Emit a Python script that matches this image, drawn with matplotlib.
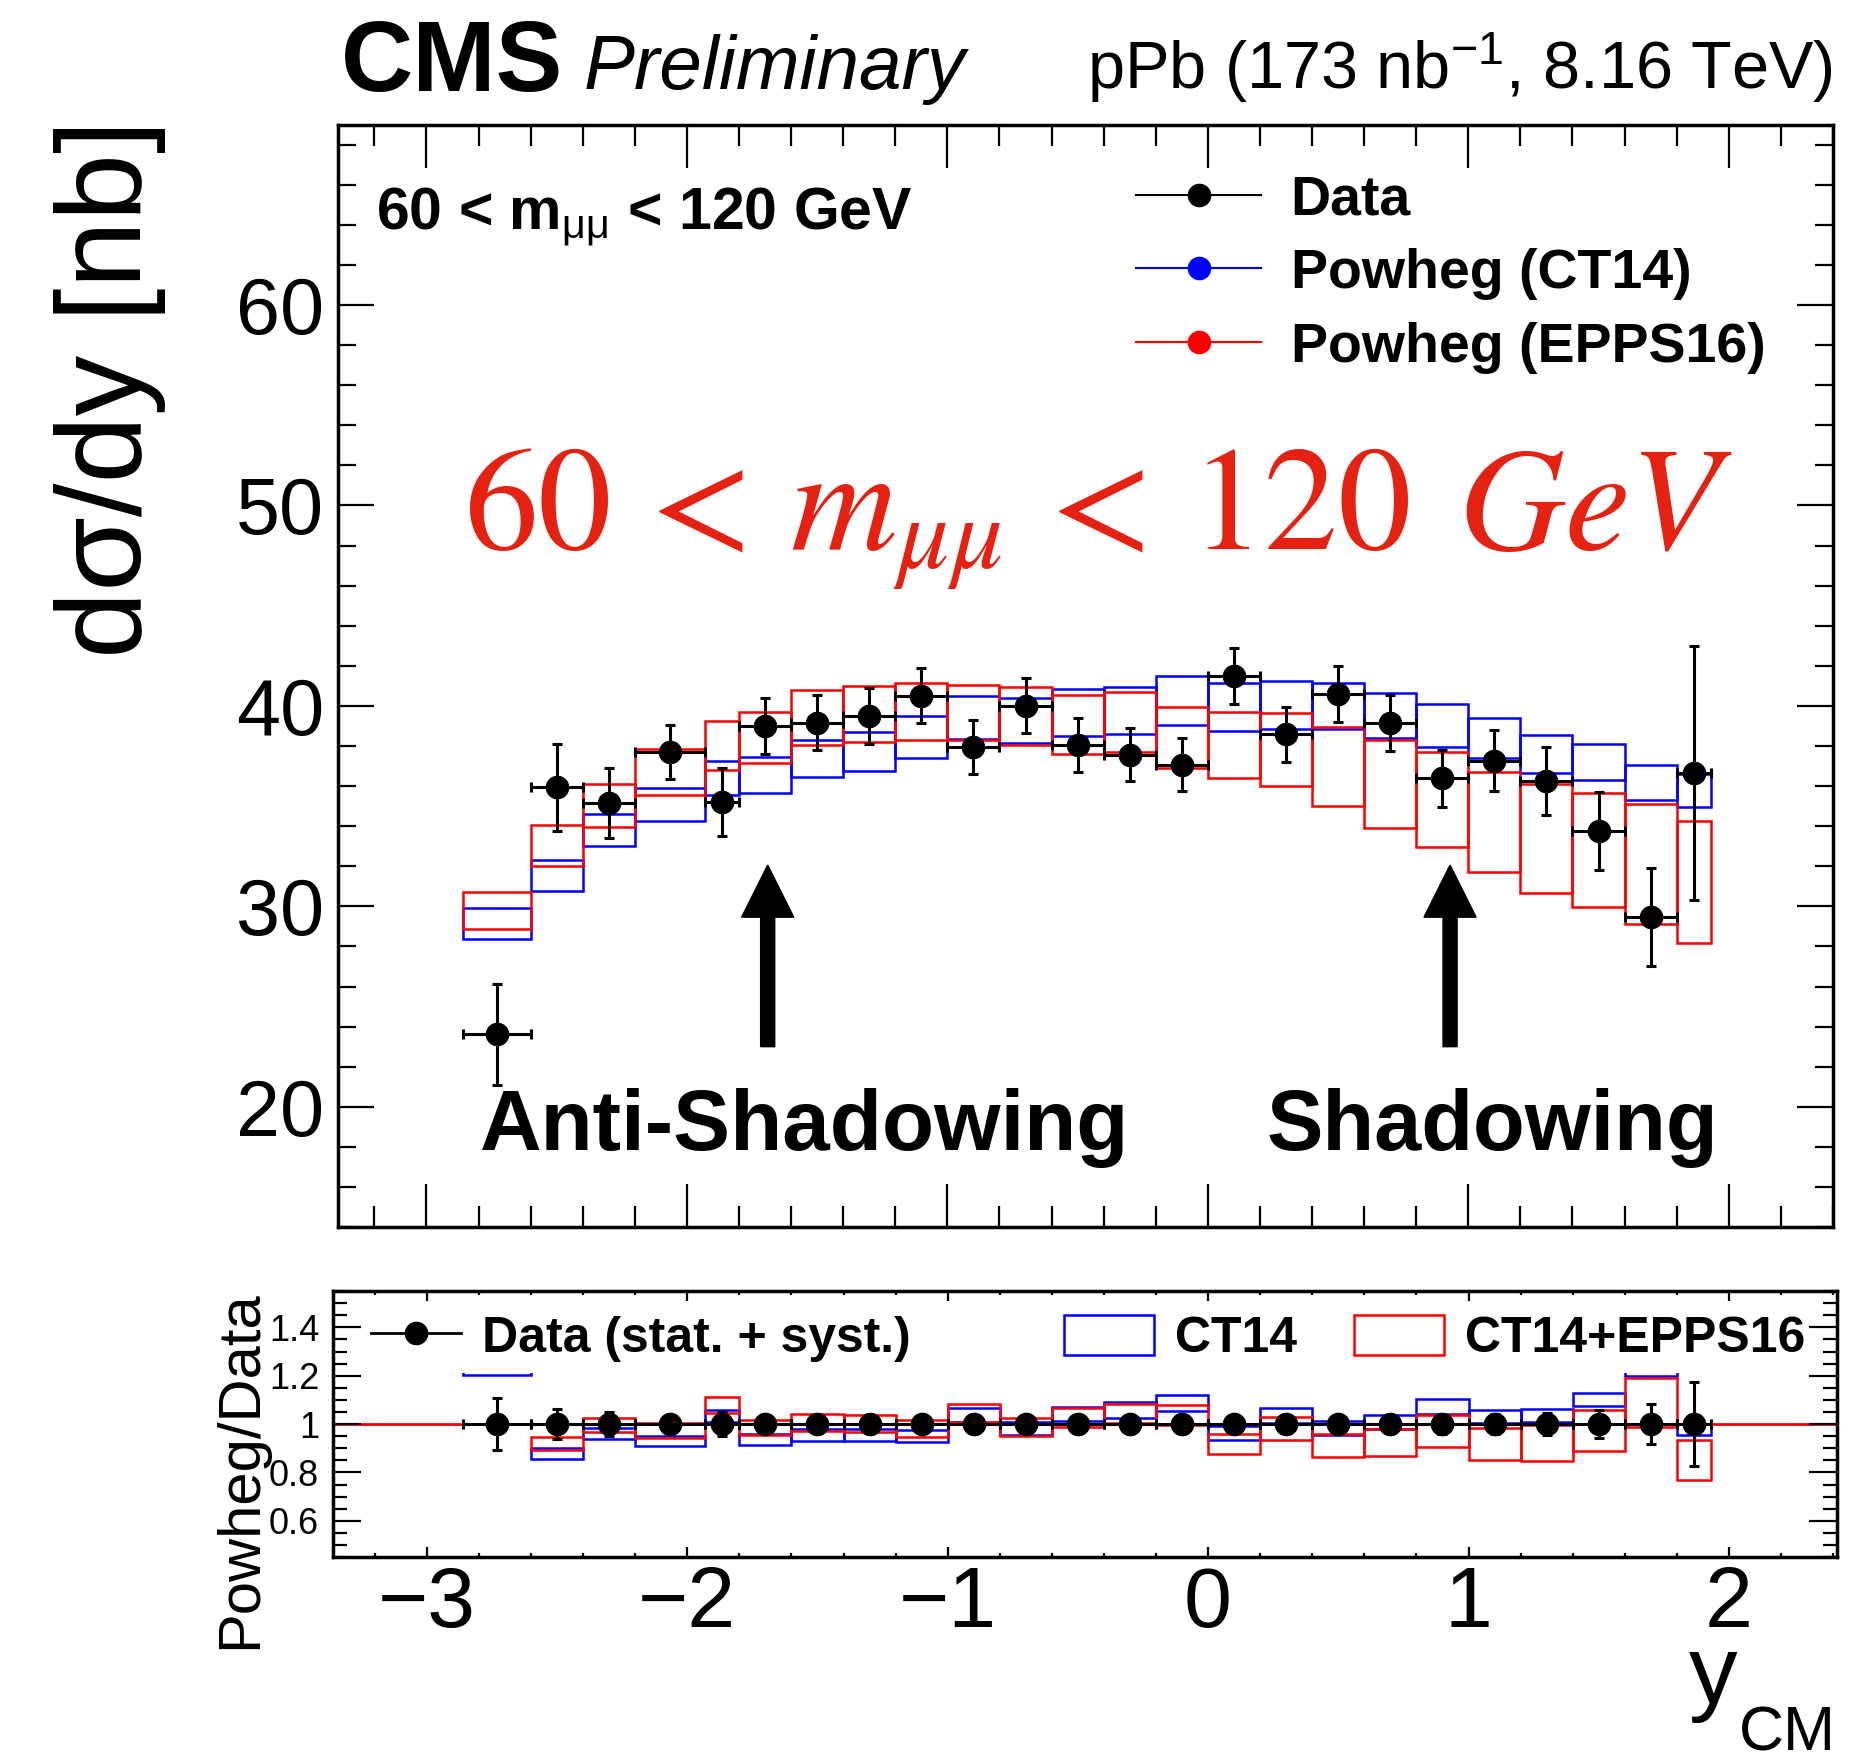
"""Z boson (DY) dsigma/dy in pPb at 8.16 TeV, data vs Powheg, with ratio panel."""
import numpy as np
import matplotlib
matplotlib.use('Agg')
from matplotlib import pyplot as plt
from matplotlib.lines import Line2D
from matplotlib.patches import Rectangle
from matplotlib.ticker import MultipleLocator, FuncFormatter

plt.rcParams['font.family'] = ['Liberation Sans', 'DejaVu Sans']
plt.rcParams['mathtext.fontset'] = 'custom'
plt.rcParams['mathtext.rm'] = 'Liberation Sans'
plt.rcParams['mathtext.it'] = 'Liberation Sans:italic'
plt.rcParams['mathtext.bf'] = 'Liberation Sans:bold'

# y_CM binning
bin_edges = [-2.86, -2.6, -2.4, -2.2, -1.93, -1.8, -1.6, -1.4, -1.2, -1.0, -0.8,
             -0.6, -0.4, -0.2, 0.0, 0.2, 0.4, 0.6, 0.8, 1.0, 1.2, 1.4, 1.6, 1.8, 1.93]

# measured dsigma/dy [nb] and total uncertainty
data_xsec = [23.62, 35.93, 35.15, 37.69, 35.21, 39.0, 39.17, 39.5, 40.5, 37.95, 40.0,
             38.06, 37.57, 37.06, 41.49, 38.59, 40.59, 39.15, 36.39, 37.27, 36.26,
             33.77, 29.45, 36.64]
data_err = [2.51, 2.18, 1.74, 1.36, 1.71, 1.41, 1.39, 1.41, 1.37, 1.33, 1.37, 1.35,
            1.31, 1.33, 1.41, 1.37, 1.40, 1.40, 1.43, 1.51, 1.69, 1.94, 2.44, 6.33]

# Powheg (CT14) band
ct14_lo = [28.37, 30.78, 33.00, 34.25, 35.54, 35.68, 36.46, 36.74, 37.42, 38.33, 38.16,
           38.50, 38.58, 39.05, 38.75, 38.83, 38.83, 38.42, 37.95, 37.39, 36.64,
           36.29, 35.29, 34.96]
ct14_hi = [29.90, 32.32, 34.63, 35.89, 37.27, 37.47, 38.30, 38.70, 39.50, 40.49, 40.38,
           40.83, 40.96, 41.51, 41.16, 41.24, 41.16, 40.66, 40.11, 39.41, 38.55,
           38.12, 37.04, 36.62]

# Powheg (CT14+EPPS16) band
epps_lo = [28.88, 32.02, 33.98, 35.56, 36.81, 37.17, 38.07, 38.20, 38.28, 38.28, 38.03,
           37.59, 37.72, 36.92, 36.42, 35.99, 35.00, 33.92, 32.94, 31.69, 30.66,
           29.95, 29.11, 28.17]
epps_hi = [30.74, 34.05, 36.09, 37.84, 39.23, 39.70, 40.79, 41.01, 41.16, 41.06, 40.96,
           40.53, 40.71, 39.95, 39.71, 39.66, 38.95, 38.30, 37.70, 36.72, 36.09,
           35.68, 35.10, 34.26]

arrow_x = [-1.69, 0.93]

RED_TEXT = '#e52212'


def style_spines(axes):
    """ROOT-like thick frame."""
    for sp in axes.spines.values():
        sp.set_linewidth(2.5)


def main():
    edges = np.array(bin_edges)
    centers = 0.5 * (edges[:-1] + edges[1:])
    widths = np.diff(edges)
    data = np.array(data_xsec)
    err = np.array(data_err)
    c_lo, c_hi = np.array(ct14_lo), np.array(ct14_hi)
    e_lo, e_hi = np.array(epps_lo), np.array(epps_hi)

    fig = plt.figure(figsize=(18.65, 17.6), dpi=100)
    ax = fig.add_axes([0.1812, 0.3028, 0.8016, 0.6264])
    rax = fig.add_axes([0.1786, 0.1153, 0.8064, 0.1511])

    # ---- upper panel
    ax.bar(centers, c_hi - c_lo, bottom=c_lo, width=widths, fill=False,
           edgecolor='blue', linewidth=1.8)
    ax.bar(centers, e_hi - e_lo, bottom=e_lo, width=widths, fill=False,
           edgecolor='red', linewidth=1.8)
    ax.errorbar(centers, data, xerr=widths / 2, yerr=err, fmt='o', color='black',
                ms=16, elinewidth=2.2, capsize=3.5, capthick=2.2, zorder=4)

    for xa in arrow_x:
        ax.arrow(xa, 23.0, 0, 9.06, width=0.054, head_width=0.2, head_length=2.6,
                 length_includes_head=True, color='black', zorder=4)

    ax.text(-1.547, 17.85, 'Anti-Shadowing', fontsize=61.5, fontweight='bold',
            ha='center', va='baseline')
    ax.text(1.094, 17.85, 'Shadowing', fontsize=61, fontweight='bold',
            ha='center', va='baseline')
    ax.text(-2.857, 47.82, r'$60\,<\,m_{\mu\mu}\,<\,120\;\,GeV$', fontsize=106,
            color=RED_TEXT, math_fontfamily='stix', ha='left', va='baseline')
    ax.text(0.0254, 0.906, r'60 < m$_{\mathrm{\mu\mu}}$ < 120 GeV', transform=ax.transAxes,
            fontsize=42.5, fontweight='bold', ha='left', va='baseline')

    handles = [Line2D([], [], color='black', marker='o', ms=16, lw=1.5),
               Line2D([], [], color='blue', marker='o', ms=16, lw=1.5),
               Line2D([], [], color='red', marker='o', ms=16, lw=1.5)]
    ax.legend(handles, ['Data', 'Powheg (CT14)', 'Powheg (EPPS16)'],
              loc='upper left', bbox_to_anchor=(0.534, 0.955), frameon=False,
              prop={'weight': 'bold', 'size': 40}, handlelength=2.25,
              handletextpad=0.53, labelspacing=0.39, borderpad=0, borderaxespad=0)

    ax.set_xlim(-3.34, 2.40)
    ax.set_ylim(14, 69)
    ax.xaxis.set_major_locator(MultipleLocator(1))
    ax.xaxis.set_minor_locator(MultipleLocator(0.2))
    ax.yaxis.set_major_locator(MultipleLocator(10))
    ax.yaxis.set_minor_locator(MultipleLocator(2))
    ax.tick_params(which='both', direction='in', top=True, right=True,
                   labelbottom=False, width=1.6)
    ax.tick_params(axis='x', which='major', length=31)
    ax.tick_params(axis='x', which='minor', length=15)
    ax.tick_params(axis='y', which='major', length=26, labelsize=57, pad=10)
    ax.tick_params(axis='y', which='minor', length=13)
    style_spines(ax)

    # ---- ratio panel
    ones = data / data
    rax.axhline(1.0, color='red', lw=2, zorder=1.8)
    rax.bar(centers, (c_hi - c_lo) / data, bottom=c_lo / data, width=widths,
            fill=False, edgecolor='blue', linewidth=1.8)
    rax.bar(centers, (e_hi - e_lo) / data, bottom=e_lo / data, width=widths,
            fill=False, edgecolor='red', linewidth=1.8)
    rax.errorbar(centers, ones, xerr=widths / 2, yerr=err / data, fmt='o',
                 color='black', ms=16, elinewidth=2.2, capsize=3.5, capthick=2.2,
                 zorder=3)

    # legend background (covers the bands above ~1.21)
    rax.add_patch(Rectangle((0.02, 0.691), 0.96, 0.305, transform=rax.transAxes,
                            facecolor='white', edgecolor='none', zorder=2.2))
    rax.set_axisbelow(False)

    leg_prop = {'weight': 'bold', 'size': 36}
    leg_kw = dict(loc='center left', frameon=False, prop=leg_prop, handlelength=1.8,
                  handleheight=0.86, handletextpad=0.41, borderpad=0, borderaxespad=0)
    leg1 = rax.legend([Line2D([], [], color='black', marker='o', ms=16, lw=2)],
                      ['Data (stat. + syst.)'], bbox_to_anchor=(0.0253, 0.823), **leg_kw)
    leg1.set_zorder(5)
    rax.add_artist(leg1)
    leg2 = rax.legend([Rectangle((0, 0), 1, 1, facecolor='none', edgecolor='blue', lw=1.8)],
                      ['CT14'], bbox_to_anchor=(0.486, 0.823), **leg_kw)
    leg2.set_zorder(5)
    rax.add_artist(leg2)
    leg3 = rax.legend([Rectangle((0, 0), 1, 1, facecolor='none', edgecolor='red', lw=1.8)],
                      ['CT14+EPPS16'], bbox_to_anchor=(0.679, 0.823), **leg_kw)
    leg3.set_zorder(5)

    rax.set_xlim(-3.36, 2.415)
    rax.set_ylim(0.45, 1.55)
    rax.xaxis.set_major_locator(MultipleLocator(1))
    rax.xaxis.set_minor_locator(MultipleLocator(0.2))
    rax.yaxis.set_major_locator(MultipleLocator(0.2))
    rax.yaxis.set_minor_locator(MultipleLocator(0.05))
    rax.yaxis.set_major_formatter(FuncFormatter(lambda v, p: '%g' % round(v, 3)))
    rax.tick_params(which='both', direction='in', top=True, right=True, width=1.6)
    rax.tick_params(axis='x', which='major', length=7, labelsize=62, pad=6)
    rax.tick_params(axis='x', which='minor', length=3)
    rax.tick_params(axis='y', which='major', length=20, labelsize=26, pad=10)
    rax.tick_params(axis='y', which='minor', length=10)
    style_spines(rax)

    # ---- titles and axis labels
    fig.text(341 / 1865, 1 - 91 / 1760, 'CMS', fontsize=72, fontweight='bold',
             ha='left', va='baseline')
    fig.text(584 / 1865, 1 - 89 / 1760, 'Preliminary', fontsize=55, style='italic',
             ha='left', va='baseline')
    fig.text(1833 / 1865, 1 - 89 / 1760, r'pPb (173 nb$^{\mathregular{-1}}$, 8.16 TeV)',
             fontsize=48, ha='right', va='baseline')
    fig.text(110 / 1865, 1 - 119 / 1760, 'd\u03c3/dy [nb]', fontsize=87, rotation=90,
             ha='center', va='top')
    fig.text(241 / 1865, 1 - 1290 / 1760, 'Powheg/Data', fontsize=43, rotation=90,
             ha='center', va='top')
    fig.text(1689 / 1865, 1 - 1703 / 1760, 'y', fontsize=70, ha='left', va='baseline')
    fig.text(1739 / 1865, 1 - 1750 / 1760, 'CM', fontsize=45, ha='left', va='baseline')

    fig.savefig('out.png', dpi=100)


if __name__ == '__main__':
    main()
